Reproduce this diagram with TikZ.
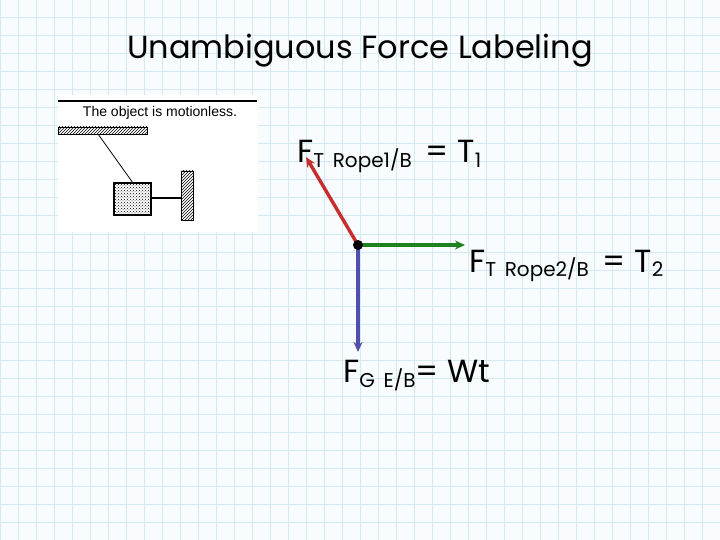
\documentclass[tikz,border=0pt]{standalone}
\usepackage{fontspec}
\setmainfont{Poppins}
\usetikzlibrary{patterns,arrows.meta}
\definecolor{gridc}{RGB}{212,234,240}
\definecolor{bgc}{RGB}{248,252,254}
\definecolor{redc}{RGB}{200,45,45}
\definecolor{greenc}{RGB}{30,130,30}
\definecolor{bluec}{RGB}{80,80,170}
\newcommand{\sbx}[1]{\raisebox{-5pt}{\fontsize{20}{22}\selectfont #1}}
\begin{document}
\begin{tikzpicture}[x=1pt,y=-1pt,
  force/.style={line width=3.4pt,-{Stealth[length=10pt,width=9pt]}},
  big/.style={anchor=base west,inner sep=0pt,font=\fontsize{32}{34}\selectfont}]
\useasboundingbox (0,0) rectangle (720,540);
\fill[bgc] (0,0) rectangle (720,540);
\foreach \i in {0,18,...,720} \draw[gridc,line width=1pt] (\i,0) -- (\i,540);
\foreach \i in {0,18,...,540} \draw[gridc,line width=1pt] (0,\i) -- (720,\i);
\node[anchor=base,font=\fontsize{32}{34}\selectfont] (title) at (360,59) {Unambiguous Force Labeling};
% inset picture
\fill[white] (58,95) rectangle (258,232);
\draw[line width=1.3pt] (58,101) -- (257,101);
\node[font=\fontsize{14}{15}\selectfont,anchor=base] (cap) at (160,117) {\fontspec{Liberation Sans}The object is motionless.};
\draw[pattern=north east lines] (58,127) rectangle (147,134);
\fill[pattern=crosshatch dots] (114,183) rectangle (151,215);
\draw[line width=1.2pt] (114,183) rectangle (151,215);
\draw[pattern=north east lines] (181,171) rectangle (193,220);
\coordinate (r1) at (98,134); \coordinate (b1) at (133,183);
\draw[line width=0.8pt] (r1) -- (b1);
\coordinate (b2) at (151,198); \coordinate (w2) at (181,198);
\draw[line width=1.5pt] (b2) -- (w2);
% force diagram
\coordinate (o) at (358,245);
\coordinate (t1) at (306,157);
\coordinate (t2) at (465,245);
\coordinate (g) at (358,352);
\draw[force,draw=redc,fill=redc] (o) -- (t1);
\draw[force,draw=greenc,fill=greenc] (o) -- (t2);
\draw[force,draw=bluec,fill=bluec] (o) -- (g);
\fill (o) circle (5pt);
\node[big] (l1) at (297,163) {F\sbx{T\, Rope1/B}\, = T\sbx{1}};
\node[big] (l2) at (469,272) {F\sbx{T\, Rope2/B}\, = T\sbx{2}};
\node[big] (l3) at (343,382) {F\sbx{G\, E/B}= Wt};
\end{tikzpicture}
\end{document}
